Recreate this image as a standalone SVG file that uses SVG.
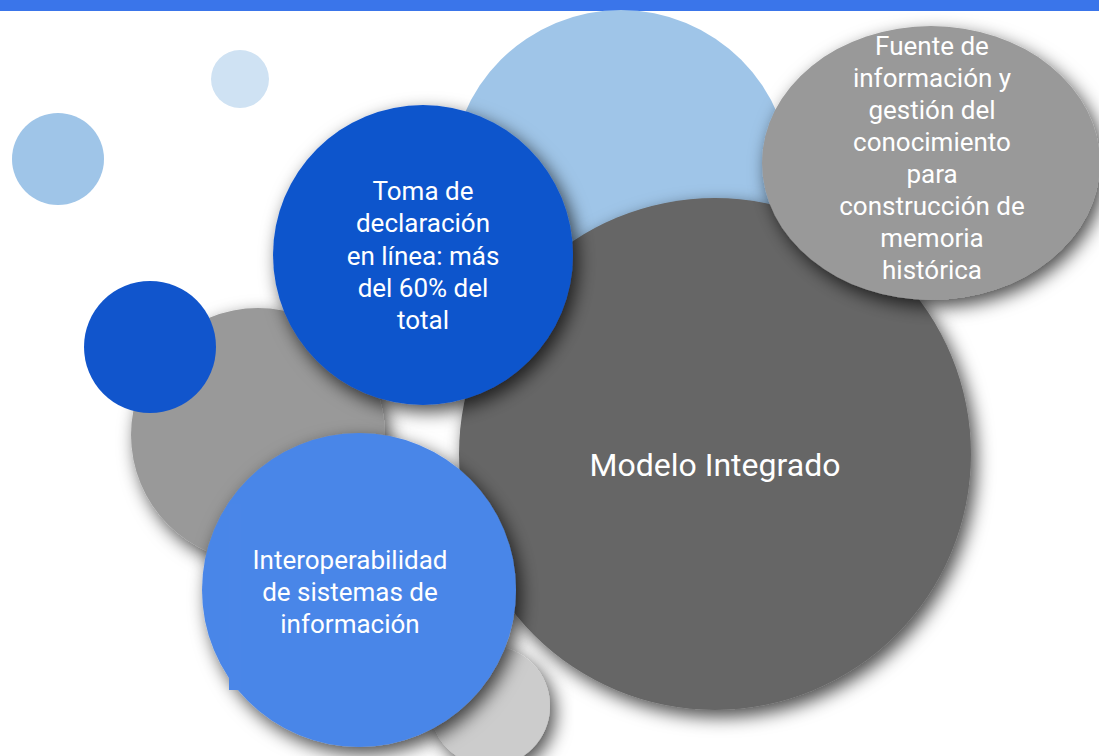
<svg xmlns="http://www.w3.org/2000/svg" width="1099" height="756" viewBox="0 0 1099 756">
<defs>
<filter id="sh" x="-20%" y="-20%" width="140%" height="140%">
<feDropShadow dx="5" dy="7" stdDeviation="9" flood-color="#000" flood-opacity="0.7"/>
</filter>
<style>
.t{font-family:Roboto,"Liberation Sans",sans-serif;fill:#fff;text-anchor:middle;font-size:26px}
.big{font-size:32px}
</style>
</defs>
<rect x="0" y="0" width="1099" height="756" fill="#fff"/>
<rect x="0" y="0" width="1099" height="11" fill="#3a75ea"/>
<g id="deco">
<circle cx="240" cy="79" r="29" fill="#cfe2f3"/>
<circle cx="58" cy="159" r="46" fill="#9fc5e8"/>
<circle cx="621" cy="180" r="170" fill="#9fc5e8"/>
<circle cx="258" cy="435" r="127" fill="#999999" filter="url(#sh)"/>
<circle cx="150" cy="347" r="66" fill="#1155cc"/>
</g>
<g id="modelo">
<circle cx="715" cy="454" r="256" fill="#666666" filter="url(#sh)"/>
<text class="t big" x="715" y="476">Modelo Integrado</text>
</g>
<g id="deco2">
<circle cx="490" cy="706" r="60" fill="#cccccc" filter="url(#sh)"/>
</g>
<g id="fuente">
<ellipse cx="931" cy="163" rx="169" ry="137" fill="#999999" filter="url(#sh)"/>
<text class="t" x="932" y="55">Fuente de</text>
<text class="t" x="932" y="87">información y</text>
<text class="t" x="932" y="119">gestión del</text>
<text class="t" x="932" y="151">conocimiento</text>
<text class="t" x="932" y="183">para</text>
<text class="t" x="932" y="215">construcción de</text>
<text class="t" x="932" y="247">memoria</text>
<text class="t" x="932" y="279">histórica</text>
</g>
<g id="toma">
<circle cx="423" cy="255" r="150" fill="#1155cc" filter="url(#sh)"/>
<text class="t" x="423" y="200">Toma de</text>
<text class="t" x="423" y="232">declaración</text>
<text class="t" x="423" y="265">en línea: más</text>
<text class="t" x="423" y="297">del 60% del</text>
<text class="t" x="423" y="329">total</text>
</g>
<g id="interop">
<circle cx="359" cy="590" r="157" fill="#4a86e8" filter="url(#sh)"/>
<rect x="229" y="504" width="12" height="186" fill="#4a86e8"/>
<text class="t" x="350" y="569">Interoperabilidad</text>
<text class="t" x="350" y="601">de sistemas de</text>
<text class="t" x="350" y="633">información</text>
</g>
<g id="connectors"></g>
</svg>
